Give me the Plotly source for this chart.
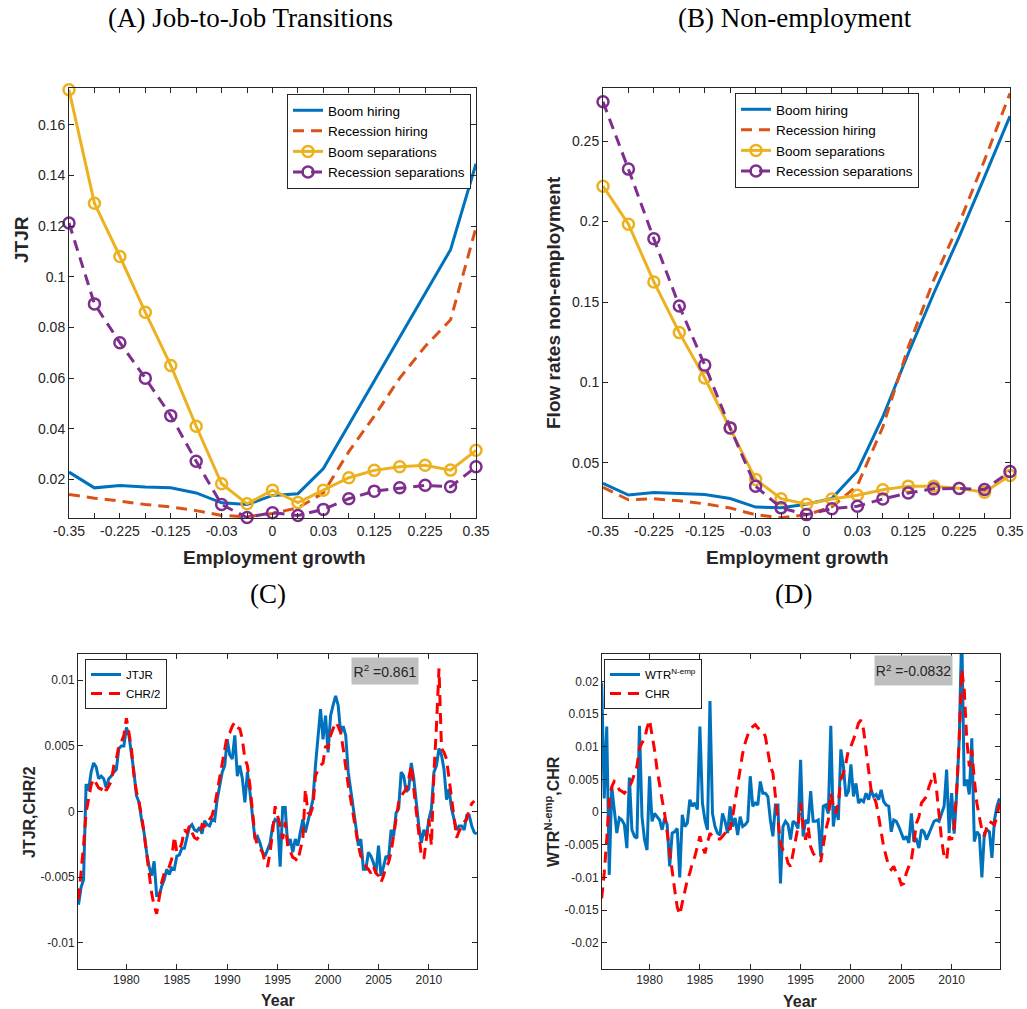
import plotly.graph_objects as go

# ---------------- Top panels: employment-growth bins ----------------
bin_labels = ["-0.35", "", "-0.225", "", "-0.125", "", "-0.03", "", "0", "",
              "0.03", "", "0.125", "", "0.225", "", "0.35"]

jj_boom_hiring = [0.0229, 0.0167, 0.0176, 0.0170, 0.0167, 0.0147, 0.0108, 0.0101, 0.0137,
                  0.0144, 0.0243, 0.0415, 0.0587, 0.0760, 0.0932, 0.1107, 0.1446]
jj_rec_hiring = [0.0141, 0.0126, 0.0115, 0.0101, 0.0092, 0.0077, 0.0058, 0.0053, 0.0066,
                 0.0088, 0.0147, 0.0310, 0.0450, 0.0600, 0.0725, 0.0830, 0.1194]
jj_boom_sep = [0.1738, 0.1290, 0.1080, 0.0860, 0.0650, 0.0410, 0.0183, 0.0104, 0.0158,
               0.0109, 0.0158, 0.0207, 0.0236, 0.0250, 0.0256, 0.0237, 0.0315]
jj_rec_sep = [0.1212, 0.0893, 0.0740, 0.0600, 0.0452, 0.0272, 0.0101, 0.0050, 0.0069,
              0.0058, 0.0082, 0.0124, 0.0154, 0.0167, 0.0177, 0.0171, 0.0250]

ne_boom_hiring = [0.0374, 0.0301, 0.0316, 0.0311, 0.0304, 0.0279, 0.0226, 0.0222, 0.0243,
                  0.0280, 0.0450, 0.0786, 0.1180, 0.1553, 0.1905, 0.2278, 0.2655]
ne_rec_hiring = [0.0349, 0.0271, 0.0277, 0.0265, 0.0246, 0.0220, 0.0178, 0.0160, 0.0178,
                 0.0227, 0.0360, 0.0723, 0.1220, 0.1636, 0.1988, 0.2382, 0.2797]
ne_boom_sep = [0.2220, 0.1984, 0.1625, 0.1310, 0.1028, 0.0718, 0.0398, 0.0278, 0.0243,
               0.0276, 0.0299, 0.0333, 0.0356, 0.0356, 0.0343, 0.0318, 0.0422]
ne_rec_sep = [0.2744, 0.2326, 0.1893, 0.1475, 0.1108, 0.0718, 0.0355, 0.0221, 0.0179,
              0.0216, 0.0231, 0.0276, 0.0314, 0.0339, 0.0341, 0.0335, 0.0447]

series_names = ["Boom hiring", "Recession hiring", "Boom separations", "Recession separations"]

# ---------------- Bottom panels: quarterly series 1975Q2 - 2014Q4 ----------------
start_year = 1975.25
year_ticks = [1980, 1985, 1990, 1995, 2000, 2005, 2010]

jtjr = [
    -0.0071, -0.0058, -0.0052,
    0.0021, 0.0016, 0.0030, 0.0037,
    0.0034, 0.0025, 0.0027, 0.0025,
    0.0018, 0.0025, 0.0027, 0.0030,
    0.0032, 0.0048, 0.0050, 0.0050,
    0.0064, 0.0058, 0.0045, 0.0030,
    0.0012, 0.0007, -0.0006, -0.0016,
    -0.0031, -0.0042, -0.0049, -0.0038,
    -0.0064, -0.0064, -0.0057, -0.0052,
    -0.0044, -0.0048, -0.0043, -0.0044,
    -0.0034, -0.0033, -0.0028, -0.0028,
    -0.0020, -0.0012, -0.0010, -0.0014,
    -0.0015, -0.0012, -0.0017, -0.0007,
    -0.0010, -0.0011, -0.0006, -0.0007,
    0.0009, 0.0020, 0.0030, 0.0035,
    0.0055, 0.0043, 0.0040, 0.0058,
    0.0027, 0.0035, 0.0025, 0.0007,
    0.0030, 0.0015, -0.0001, -0.0021,
    -0.0019, -0.0024, -0.0031, -0.0034,
    -0.0029, -0.0024, -0.0011, -0.0006,
    -0.0007, -0.0042, 0.0003, 0.0003,
    -0.0026, -0.0021, -0.0031, -0.0021,
    -0.0026, -0.0016, -0.0006, -0.0016,
    -0.0008, -0.0001, 0.0009, 0.0035,
    0.0058, 0.0078, 0.0055, 0.0073,
    0.0045, 0.0073, 0.0081, 0.0088,
    0.0081, 0.0060, 0.0065, 0.0058,
    0.0030, 0.0017, 0.0004, -0.0011,
    -0.0026, -0.0021, -0.0044, -0.0044,
    -0.0031, -0.0034, -0.0039, -0.0047,
    -0.0026, -0.0049, -0.0042, -0.0034,
    -0.0036, -0.0014, -0.0019, -0.0001,
    0.0002, 0.0030, 0.0027, 0.0015,
    0.0017, 0.0037, 0.0025, 0.0004,
    -0.0011, -0.0024, -0.0014, -0.0019,
    -0.0006, 0.0002, 0.0030, 0.0035,
    0.0048, 0.0043, 0.0032, 0.0009,
    0.0017, 0.0002, -0.0006, -0.0014,
    -0.0011, -0.0011, -0.0014, -0.0003,
    -0.0003, -0.0011, -0.0016, -0.0017,
]

chr_half = [
    -0.0067, -0.0047, -0.0026,
    -0.0001, 0.0009, 0.0020, 0.0025,
    0.0022, 0.0018, 0.0017, 0.0020,
    0.0016, 0.0020, 0.0023, 0.0035,
    0.0040, 0.0050, 0.0053, 0.0058,
    0.0071, 0.0060, 0.0048, 0.0027,
    0.0015, 0.0007, -0.0003, -0.0016,
    -0.0034, -0.0047, -0.0062, -0.0072,
    -0.0078, -0.0067, -0.0054, -0.0047,
    -0.0044, -0.0042, -0.0036, -0.0019,
    -0.0031, -0.0029, -0.0024, -0.0014,
    -0.0016, -0.0011, -0.0016, -0.0020,
    -0.0021, -0.0019, -0.0010, -0.0011,
    -0.0011, -0.0006, -0.0003, 0.0004,
    0.0015, 0.0025, 0.0035, 0.0048,
    0.0058, 0.0060, 0.0065, 0.0068,
    0.0064, 0.0063, 0.0055, 0.0040,
    0.0035, 0.0020, -0.0001, -0.0019,
    -0.0026, -0.0029, -0.0031, -0.0039,
    -0.0042, -0.0031, -0.0016, 0.0004,
    -0.0003, -0.0011, -0.0021, -0.0008,
    -0.0026, -0.0031, -0.0035, -0.0036,
    -0.0038, -0.0029, -0.0021, 0.0017,
    -0.0001, -0.0002, 0.0004, 0.0027,
    0.0032, 0.0035, 0.0037, 0.0050,
    0.0048, 0.0058, 0.0063, 0.0068,
    0.0065, 0.0060, 0.0048, 0.0032,
    0.0020, 0.0009, -0.0003, -0.0016,
    -0.0026, -0.0034, -0.0036, -0.0042,
    -0.0044, -0.0047, -0.0042, -0.0047,
    -0.0049, -0.0054, -0.0049, -0.0042,
    -0.0039, -0.0031, -0.0019, -0.0006,
    0.0007, 0.0012, 0.0015, 0.0017,
    0.0025, 0.0035, 0.0017, -0.0001,
    -0.0016, -0.0034, -0.0036, -0.0021,
    -0.0006, -0.0026, 0.0030, 0.0065,
    0.0109, 0.0048, 0.0045, 0.0040,
    0.0025, 0.0009, -0.0003, -0.0020,
    -0.0015, -0.0011, -0.0008, -0.0006,
    0.0002, 0.0006, 0.0008, None,
]

wtr_nemp = [
    0.0198, 0.0021, 0.0131,
    -0.0096, 0.0039, -0.0002, -0.0032,
    -0.0009, -0.0012, -0.0019, -0.0055,
    0.0053, -0.0027, -0.0037, -0.0040,
    0.0132, -0.0007, -0.0042, -0.0058,
    0.0055, -0.0014, -0.0002, -0.0007,
    -0.0012, -0.0027, -0.0009, -0.0019,
    -0.0083, -0.0032, -0.0030, -0.0025,
    -0.0100, -0.0004, -0.0022, -0.0017,
    0.0019, 0.0009, 0.0014, 0.0004,
    0.0131, 0.0014, -0.0012, -0.0027,
    0.0170, -0.0002, -0.0022, -0.0032,
    -0.0035, -0.0002, -0.0014, -0.0032,
    0.0009, -0.0022, -0.0009, -0.0035,
    -0.0007, -0.0022, -0.0019, -0.0014,
    0.0055, 0.0009, 0.0014, 0.0011,
    0.0047, 0.0029, 0.0029, 0.0024,
    -0.0012, -0.0037, 0.0011, 0.0011,
    -0.0109, -0.0022, -0.0014, -0.0019,
    -0.0042, -0.0014, -0.0017, -0.0025,
    0.0080, -0.0037, -0.0012, -0.0017,
    0.0032, -0.0014, -0.0014, -0.0012,
    -0.0068, 0.0009, 0.0011, -0.0002,
    0.0132, -0.0022, 0.0009, -0.0012,
    0.0096, 0.0070, 0.0024, 0.0032,
    0.0073, 0.0024, 0.0044, 0.0014,
    0.0019, 0.0016, 0.0029, 0.0019,
    0.0034, 0.0024, 0.0027, 0.0019,
    0.0034, 0.0016, 0.0011, 0.0009,
    -0.0030, -0.0012, -0.0014, -0.0022,
    -0.0032, -0.0042, -0.0037, -0.0047,
    -0.0002, -0.0045, -0.0042, -0.0055,
    -0.0027, -0.0030, -0.0042, -0.0032,
    -0.0022, -0.0014, -0.0012, -0.0014,
    -0.0002, 0.0009, 0.0065, -0.0032,
    0.0029, -0.0033, 0.0030, 0.0110,
    0.0280, 0.0040, 0.0050, 0.0027,
    0.0113, -0.0045, -0.0030, -0.0035,
    -0.0100, -0.0032, -0.0027, -0.0030,
    -0.0070, -0.0012, 0.0009, 0.0021,
]

chr_full = [
    -0.0132, -0.0093, -0.0042,
    0.0019, 0.0039, 0.0047, 0.0044,
    0.0034, 0.0032, 0.0029, 0.0034,
    0.0039, 0.0047, 0.0060, 0.0070,
    0.0098, 0.0106, 0.0111, 0.0129,
    0.0141, 0.0121, 0.0095, 0.0065,
    0.0039, 0.0019, -0.0002, -0.0032,
    -0.0068, -0.0093, -0.0119, -0.0145,
    -0.0157, -0.0139, -0.0119, -0.0104,
    -0.0093, -0.0078, -0.0068, -0.0053,
    -0.0037, -0.0053, -0.0063, -0.0047,
    -0.0032, -0.0037, -0.0040, -0.0041,
    -0.0041, -0.0037, -0.0032, -0.0022,
    -0.0027, -0.0007, 0.0019, 0.0044,
    0.0070, 0.0090, 0.0106, 0.0118,
    0.0126, 0.0131, 0.0134, 0.0129,
    0.0126, 0.0124, 0.0116, 0.0095,
    0.0070, 0.0060, 0.0024, -0.0017,
    -0.0047, -0.0058, -0.0063, -0.0078,
    -0.0083, -0.0063, -0.0042, -0.0022,
    0.0014, -0.0022, -0.0042, -0.0022,
    -0.0053, -0.0063, -0.0068, -0.0070,
    -0.0076, -0.0053, -0.0027, -0.0012,
    0.0029, 0.0009, -0.0002, 0.0014,
    0.0050, 0.0060, 0.0075, 0.0095,
    0.0101, 0.0111, 0.0124, 0.0136,
    0.0141, 0.0126, 0.0095, 0.0060,
    0.0034, 0.0024, 0.0014, -0.0007,
    -0.0032, -0.0053, -0.0068, -0.0083,
    -0.0088, -0.0083, -0.0093, -0.0099,
    -0.0111, -0.0109, -0.0093, -0.0083,
    -0.0073, -0.0047, -0.0017, -0.0007,
    0.0014, 0.0019, 0.0024, 0.0039,
    0.0050, 0.0060, 0.0034, -0.0007,
    -0.0042, -0.0068, -0.0073, -0.0037,
    -0.0042, -0.0022, 0.0034, 0.0111,
    0.0218, 0.0187, 0.0111, 0.0070,
    0.0095, 0.0050, 0.0014, -0.0007,
    -0.0027, -0.0037, -0.0022, -0.0014,
    -0.0017, -0.0019, -0.0007, 0.0014,
]

r2_left = "0.861"
r2_right = "-0.0832"

# ---------------- Styling ----------------
W, H = 1027, 1009
BLUE, ORANGE, YELLOW, PURPLE, RED = "#0072BD", "#D95319", "#EDB120", "#7E2F8E", "#FF0000"
AX = "#262626"
SANS = "Liberation Sans, Arial, sans-serif"
SERIF = "Liberation Serif, Times New Roman, serif"
DASH = "11px,7px"

bin_x = list(range(len(bin_labels)))
quarters = [start_year + 0.25 * i for i in range(len(jtjr))]

fig = go.Figure()

def add_top(xa, ya, leg, vals):
    bh, rh, bs, rs = vals
    common = dict(x=bin_x, xaxis=xa, yaxis=ya, legend=leg, cliponaxis=False)
    fig.add_trace(go.Scatter(y=bh, name=series_names[0], mode="lines",
                             line=dict(color=BLUE, width=3), **common))
    fig.add_trace(go.Scatter(y=rh, name=series_names[1], mode="lines",
                             line=dict(color=ORANGE, width=3, dash=DASH), **common))
    fig.add_trace(go.Scatter(y=bs, name=series_names[2], mode="lines+markers",
                             line=dict(color=YELLOW, width=3),
                             marker=dict(symbol="circle-open", size=11, color=YELLOW,
                                         line=dict(width=2.5, color=YELLOW)), **common))
    fig.add_trace(go.Scatter(y=rs, name=series_names[3], mode="lines+markers",
                             line=dict(color=PURPLE, width=3, dash=DASH),
                             marker=dict(symbol="circle-open", size=11, color=PURPLE,
                                         line=dict(width=2.5, color=PURPLE)), **common))

add_top("x", "y", "legend", (jj_boom_hiring, jj_rec_hiring, jj_boom_sep, jj_rec_sep))
add_top("x2", "y2", "legend2", (ne_boom_hiring, ne_rec_hiring, ne_boom_sep, ne_rec_sep))

fig.add_trace(go.Scatter(x=quarters, y=jtjr, name="JTJR", mode="lines", xaxis="x3", yaxis="y3",
                         legend="legend3", line=dict(color=BLUE, width=3)))
fig.add_trace(go.Scatter(x=quarters, y=chr_half, name="CHR/2", mode="lines", xaxis="x3", yaxis="y3",
                         legend="legend3", line=dict(color=RED, width=3, dash=DASH)))
fig.add_trace(go.Scatter(x=quarters, y=wtr_nemp, name="WTR<sup>N-emp</sup>", mode="lines",
                         xaxis="x4", yaxis="y4", legend="legend4", line=dict(color=BLUE, width=3)))
fig.add_trace(go.Scatter(x=quarters, y=chr_full, name="CHR", mode="lines", xaxis="x4", yaxis="y4",
                         legend="legend4", line=dict(color=RED, width=3, dash=DASH)))

def axis(domain, anchor, size, **kw):
    d = dict(domain=domain, anchor=anchor, showline=True, mirror="ticks", linecolor=AX,
             linewidth=1, ticks="inside", ticklen=5, tickcolor=AX, tickwidth=1,
             showgrid=False, zeroline=False, automargin=False,
             tickfont=dict(family=SANS, size=size, color=AX))
    d.update(kw)
    return d

def px_x(a, b):
    return [a / W, b / W]

def px_y(top, bottom):
    return [1 - bottom / H, 1 - top / H]

top_y = px_y(88, 518)
bot_y = px_y(654, 969)

tl_ticks = [0.02, 0.04, 0.06, 0.08, 0.1, 0.12, 0.14, 0.16]
tr_ticks = [0.05, 0.1, 0.15, 0.2, 0.25]
bl_ticks = [-0.01, -0.005, 0, 0.005, 0.01]
br_ticks = [-0.02, -0.015, -0.01, -0.005, 0, 0.005, 0.01, 0.015, 0.02]

def lab(v):
    return f"{v:g}"

fig.update_layout(
    width=W, height=H, margin=dict(l=0, r=0, t=0, b=0, pad=0, autoexpand=False),
    paper_bgcolor="white", plot_bgcolor="white",
    xaxis=axis(px_x(69, 476), "y", 14, range=[0, len(bin_x) - 1], tickmode="array",
               tickvals=bin_x, ticktext=bin_labels),
    yaxis=axis(top_y, "x", 14, range=[0.0048, 0.1745], tickmode="array",
               tickvals=tl_ticks, ticktext=[lab(v) for v in tl_ticks]),
    xaxis2=axis(px_x(603, 1010), "y2", 14, range=[0, len(bin_x) - 1], tickmode="array",
                tickvals=bin_x, ticktext=bin_labels),
    yaxis2=axis(top_y, "x2", 14, range=[0.0158, 0.283], tickmode="array",
                tickvals=tr_ticks, ticktext=[lab(v) for v in tr_ticks]),
    xaxis3=axis(px_x(78, 477), "y3", 12, range=[1975.2, 2014.77], tickmode="array",
                tickvals=year_ticks, ticktext=[str(v) for v in year_ticks]),
    yaxis3=axis(bot_y, "x3", 12, range=[-0.012, 0.012], tickmode="array",
                tickvals=bl_ticks, ticktext=[lab(v) for v in bl_ticks]),
    xaxis4=axis(px_x(602, 1000), "y4", 12, range=[1975.28, 2014.8], tickmode="array",
                tickvals=year_ticks, ticktext=[str(v) for v in year_ticks]),
    yaxis4=axis(bot_y, "x4", 12, range=[-0.024, 0.0242], tickmode="array",
                tickvals=br_ticks, ticktext=[lab(v) for v in br_ticks]),
)

def legend(x_px, y_px, size):
    return dict(x=x_px / W, y=1 - y_px / H, xanchor="left", yanchor="top",
                bgcolor="white", bordercolor=AX, borderwidth=1,
                font=dict(family=SANS, size=size, color="black"),
                itemwidth=30, tracegroupgap=0)

fig.update_layout(
    legend=legend(287, 94, 13.5),
    legend2=legend(735, 93, 13.5),
    legend3=legend(85, 659, 11.5),
    legend4=legend(604, 659, 11.5),
)

ann = []
def text(s, x, y, size, family=SANS, bold=False, angle=0):
    ann.append(dict(text=f"<b>{s}</b>" if bold else s, x=x / W, y=1 - y / H,
                    xref="paper", yref="paper", showarrow=False, xanchor="center",
                    yanchor="middle", textangle=angle,
                    font=dict(family=family, size=size, color="black" if family == SERIF else AX)))

text("(A) Job-to-Job Transitions", 250, 18, 27, SERIF)
text("(B) Non-employment", 795, 18, 27, SERIF)
text("(C)", 268, 594, 27, SERIF)
text("(D)", 793, 594, 27, SERIF)
text("Employment growth", 274, 557, 19, bold=True)
text("Employment growth", 797, 557, 19, bold=True)
text("JTJR", 21, 240, 19, bold=True, angle=-90)
text("Flow rates non-employment", 553, 303, 19, bold=True, angle=-90)
text("Year", 278, 1000, 16, bold=True)
text("Year", 800, 1001, 16, bold=True)
text("JTJR,CHR/2", 29, 812, 16, bold=True, angle=-90)
text("WTR<sup>N-emp</sup>,CHR", 552, 812, 16, bold=True, angle=-90)

for s, cx, cy, w, h in [(r2_left, 384.7, 670.5, 64, 24), (r2_right, 913.3, 670, 75, 27)]:
    ann.append(dict(text=f"R<sup>2</sup> ={s}", x=cx / W, y=1 - cy / H, xref="paper",
                    yref="paper", showarrow=False, xanchor="center", yanchor="middle",
                    width=w, height=h, bgcolor="#BFBFBF",
                    font=dict(family=SANS, size=14, color=AX)))

fig.update_layout(annotations=ann)
fig.write_html("out.html")
